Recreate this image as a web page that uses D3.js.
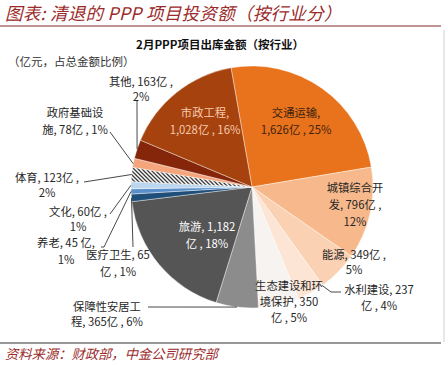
<!DOCTYPE html>
<html>
<head>
<meta charset="utf-8">
<script src="https://cdn.jsdelivr.net/npm/d3@7"></script>
<style>
  body { margin: 0; background: #fff; }
  svg { display: block; font-family: "Noto Sans CJK SC", "Noto Sans", sans-serif; }
</style>
</head>
<body>
<svg id="chart"></svg>
<script>
// data (clockwise from the top)
var categories = ["交通运输", "城镇综合开发", "能源", "水利建设", "生态建设和环境保护", "保障性安居工程",
                  "旅游", "医疗卫生", "养老", "文化", "体育", "政府基础设施", "其他", "市政工程"];
var amounts = [1626, 796, 349, 237, 350, 365, 1182, 65, 45, 60, 123, 78, 163, 1028];
var shares = ["25%", "12%", "5%", "4%", "5%", "6%", "18%", "1%", "1%", "1%", "2%", "1%", "2%", "16%"];
var labelLines = [
  ["交通运输,", "1,626亿 , 25%"],
  ["城镇综合开", "发, 796亿 ,", "12%"],
  ["能源, 349亿 ,", "5%"],
  ["水利建设, 237", "亿 , 4%"],
  ["生态建设和环", "境保护, 350", "亿 , 5%"],
  ["保障性安居工", "程, 365亿 , 6%"],
  ["旅游, 1,182", "亿 , 18%"],
  ["医疗卫生, 65", "亿 , 1%"],
  ["养老, 45 亿,", "1%"],
  ["文化, 60亿 ,", "1%"],
  ["体育, 123亿 ,", "2%"],
  ["政府基础设", "施, 78亿 , 1%"],
  ["其他, 163亿 ,", "2%"],
  ["市政工程,", "1,028亿 , 16%"]
];

var width = 448, height = 365;
var cx = 252, cy = 187, radius = 121;
var startDeg = -10;

var colors = ["#E8731C", "#F7B98B", "#FAD1B2", "#FCE5D4", "#F7F3F1", "#8C8C8C",
              "#555555", "#1F4E79", "#5B8FCB", "#BDD7EE", "url(#hatch)", "#F4A57C", "#85260A", "#A5420E"];
var textColors = ["#3d2210", "#262626", "#262626", "#262626", "#262626", "#262626",
                  "#ffffff", "#262626", "#262626", "#262626", "#262626", "#262626", "#262626", "#F8CBAD"];

// label layout: centre x, first baseline, line height
var labelPos = [
  [296, 117, 17], [355, 192, 17], [354, 259, 15], [379, 294, 16], [289, 290, 16], [107, 311, 15],
  [207, 231, 17], [118, 259, 17], [66, 247, 17], [78, 216, 15], [47, 182, 15], [75, 117, 17],
  [141, 86, 15], [205, 117, 17]
];
// leader lines: label-side points, then where on the slice (fraction of its angle)
var leaders = [];
leaders[3] = { pts: [[341, 292], [331, 292]], frac: 0.02 };
leaders[5] = { pts: [[148, 307]], frac: 0.5 };
leaders[7] = { pts: [[133, 247]], frac: 0.5 };
leaders[8] = { pts: [[101, 247], [104, 247]], frac: 0.5 };
leaders[9] = { pts: [[110, 214]], frac: 0.5 };
leaders[10] = { pts: [[84, 182]], frac: 0.5 };
leaders[11] = { pts: [[110, 132]], frac: 0.4 };
leaders[12] = { pts: [[137, 101]], frac: 0.5 };

var svg = d3.select("#chart").attr("width", width).attr("height", height);

var defs = svg.append("defs");
var pat = defs.append("pattern").attr("id", "hatch")
  .attr("patternUnits", "userSpaceOnUse").attr("width", 4).attr("height", 4);
pat.append("rect").attr("width", 4).attr("height", 4).attr("fill", "#fff");
pat.append("path").attr("d", "M-1,3 l2,2 M0,0 l4,4 M3,-1 l2,2")
  .attr("stroke", "#3a3a3a").attr("stroke-width", 1.3);

// header
svg.append("text").text("图表: 清退的 PPP 项目投资额（按行业分）")
  .attr("x", 5).attr("y", 20)
  .attr("font-size", 17.5).attr("letter-spacing", 0.3)
  .attr("font-style", "italic").attr("fill", "#9B2B2B");
svg.append("line").attr("x1", 0).attr("x2", 441).attr("y1", 26).attr("y2", 26)
  .attr("stroke", "#7a2a2a").attr("stroke-width", 1);

svg.append("line").attr("x1", 444).attr("x2", 444).attr("y1", 30).attr("y2", 342)
  .attr("stroke", "#d0d0d0").attr("stroke-width", 1);

svg.append("text").text("2月PPP项目出库金额（按行业）")
  .attr("x", 220).attr("y", 49).attr("text-anchor", "middle")
  .attr("font-size", 11.5).attr("font-weight", "bold").attr("fill", "#111");
svg.append("text").text("（亿元，占总金额比例）")
  .attr("x", 8).attr("y", 66)
  .attr("font-size", 11.5).attr("fill", "#333");

// pie
var pie = d3.pie().sort(null).value(function(d){ return d; })
  .startAngle(startDeg * Math.PI / 180)
  .endAngle(startDeg * Math.PI / 180 + 2 * Math.PI);
var arcs = pie(amounts);
var arc = d3.arc().innerRadius(0).outerRadius(radius);

var g = svg.append("g").attr("transform", "translate(" + cx + "," + cy + ")");
g.selectAll("path").data(arcs).enter().append("path")
  .attr("d", arc)
  .attr("fill", function(d, i){ return colors[i]; })
  .attr("stroke", "#fff").attr("stroke-width", 0.4);

// leader lines
var line = d3.line();
arcs.forEach(function(d, i){
  if(!leaders[i]) return;
  var a = d.startAngle + leaders[i].frac * (d.endAngle - d.startAngle);
  var p = [cx + radius * Math.sin(a), cy - radius * Math.cos(a)];
  var pts = leaders[i].pts.concat([p]);
  svg.append("path").attr("d", line(pts))
    .attr("fill", "none").attr("stroke", "#333").attr("stroke-width", 0.9);
});

// labels
arcs.forEach(function(d, i){
  var pos = labelPos[i];
  var t = svg.append("text").attr("text-anchor", "middle")
    .attr("font-size", 11.3).attr("fill", textColors[i]);
  labelLines[i].forEach(function(s, k){
    t.append("tspan").attr("x", pos[0]).attr("y", pos[1] + k * pos[2]).text(s);
  });
});

// footer
svg.append("line").attr("x1", 0).attr("x2", 441).attr("y1", 343).attr("y2", 343)
  .attr("stroke", "#333").attr("stroke-width", 1);
svg.append("text").text("资料来源：财政部，中金公司研究部")
  .attr("x", 5).attr("y", 359)
  .attr("font-size", 13.3).attr("font-style", "italic").attr("fill", "#9B2B2B");
</script>
</body>
</html>
